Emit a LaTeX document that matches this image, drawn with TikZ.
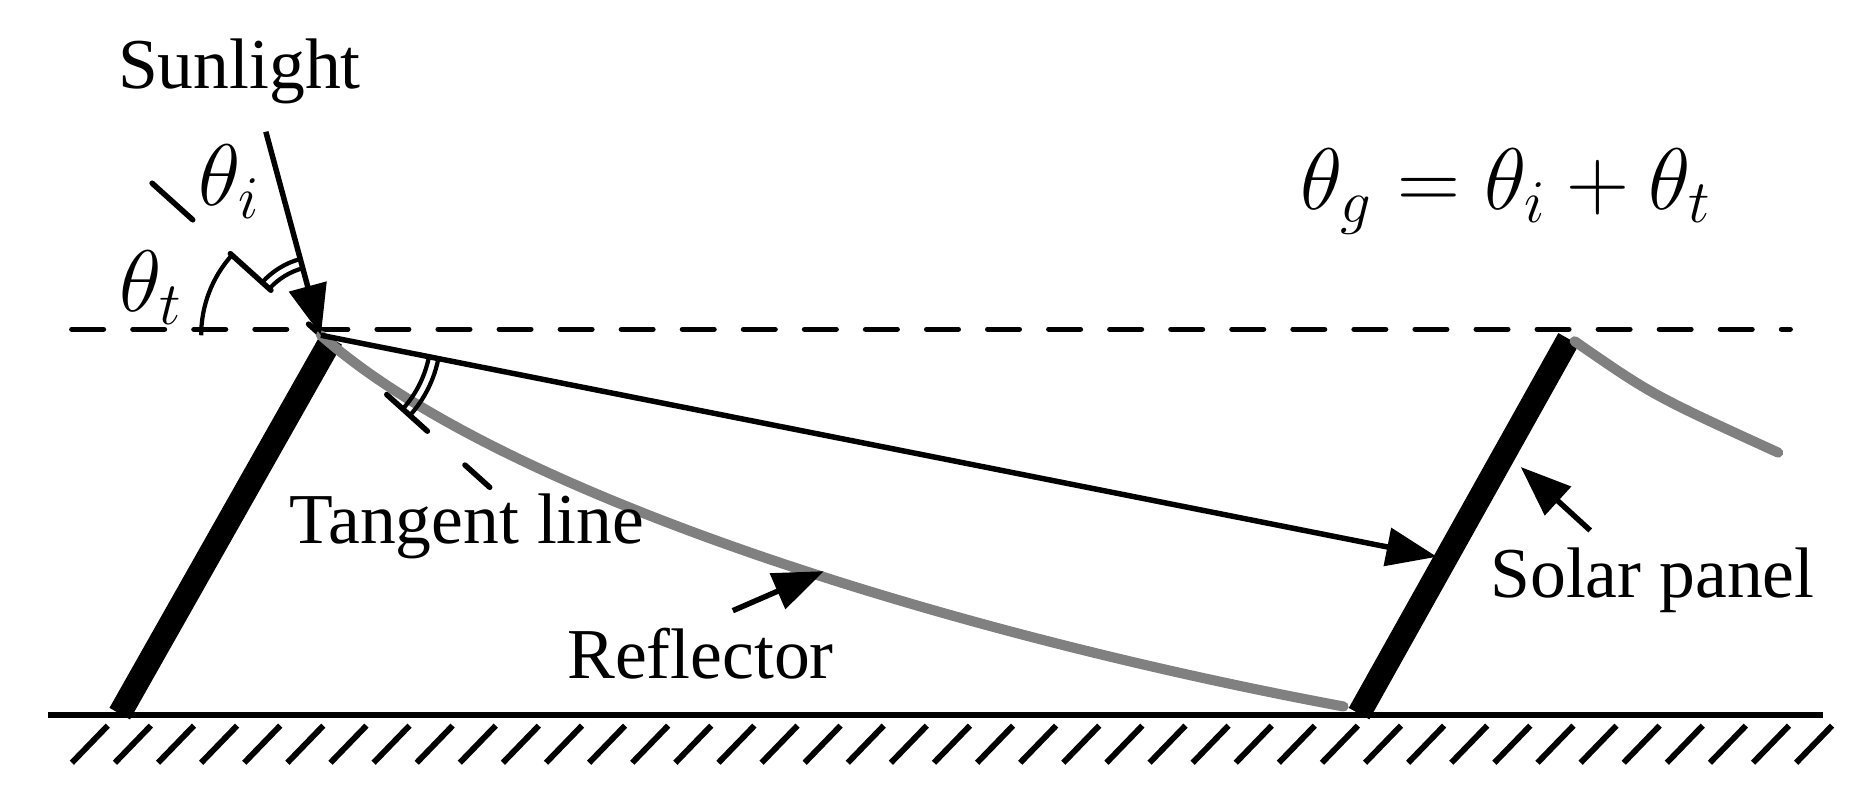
\documentclass[tikz,border=0pt]{standalone}
\usepackage{fontspec}
\setmainfont{Liberation Serif}
\usetikzlibrary{arrows.meta,positioning,calc}

\begin{document}
\begin{tikzpicture}[x=0.01cm,y=-0.01cm,
			ray/.style={line width=1.3pt, -{Triangle[length=12pt,width=9pt]}},
			panel/.style={line width=5.6pt},
			mirror/.style={line width=2.4pt, gray, line cap=round},
			guide/.style={line width=1.3pt, line cap=round, dash pattern=on 7.5pt off 7pt},
			label/.style={font=\fontsize{17}{20}\selectfont},
			angle/.style={line width=1pt}
		]
		\useasboundingbox (0,0) rectangle (1560,677);

		% Points
		\coordinate (P) at (268,280);
		\coordinate (sun) at (222,110);
		\coordinate (hit) at (1200,465);
		\coordinate (leftfoot) at (100,596);
		\coordinate (lefttop) at (277,283);
		\coordinate (rightfoot) at (1135,596);
		\coordinate (righttop) at (1310,283);
		\coordinate (tanA) at (127,153);
		\coordinate (tanB) at (409,407);

		% Ground
		\draw[line width=1.4pt] (40,597) -- (1522,597);
		\foreach \x in {60,96,...,1500}
			\draw[line width=1.4pt] (\x,637) -- (\x+30,606);

		% Horizontal reference and tangent
		\draw[guide] (60,275) -- (1495,275);
		\draw[guide, dash pattern=on 13pt off 12pt] (tanA) -- (tanB);

		% Panels and reflectors
		\draw[panel] (leftfoot) -- (lefttop);
		\draw[panel] (rightfoot) -- (righttop);
		\draw[mirror] (P) .. controls (420,415) and (800,530) .. (1122,590);
		\draw[mirror] (1315,285) .. controls (1380,330) .. (1485,378);

		% Rays
		\draw[ray] (sun) -- (P);
		\draw[ray] (P) -- (hit);

		% Angles
		\draw[angle] ($(P)+(180:100)$) arc[start angle=180, end angle=222, radius=100];
		\draw[angle] ($(P)+(222:58)$) arc[start angle=222, end angle=255, radius=58];
		\draw[angle] ($(P)+(222:66)$) arc[start angle=222, end angle=255, radius=66];
		\draw[angle] ($(P)+(42:92)$) arc[start angle=42, end angle=11, radius=92];
		\draw[angle] ($(P)+(42:100)$) arc[start angle=42, end angle=11, radius=100];

		% Labels
		\node[label] (sunlight) at (200,60) {Sunlight};
		\node[font=\fontsize{21}{24}\selectfont] (thi) at (192,152) {$\theta_i$};
		\node[font=\fontsize{21}{24}\selectfont] (tht) at (126,240) {$\theta_t$};
		\node[font=\fontsize{21}{24}\selectfont] (law) at (1258,160) {$\theta_g = \theta_i + \theta_t$};
		\node[label] (tangent) at (390,440) {Tangent line};
		\node[label] (reflector) at (585,546) {Reflector};
		\node[label] (solar) at (1380,485) {Solar panel};

		% Pointers
		\draw[ray] (612,510) -- (688,477);
		\draw[ray] (1328,443) -- (1270,390);
	\end{tikzpicture}
\end{document}
